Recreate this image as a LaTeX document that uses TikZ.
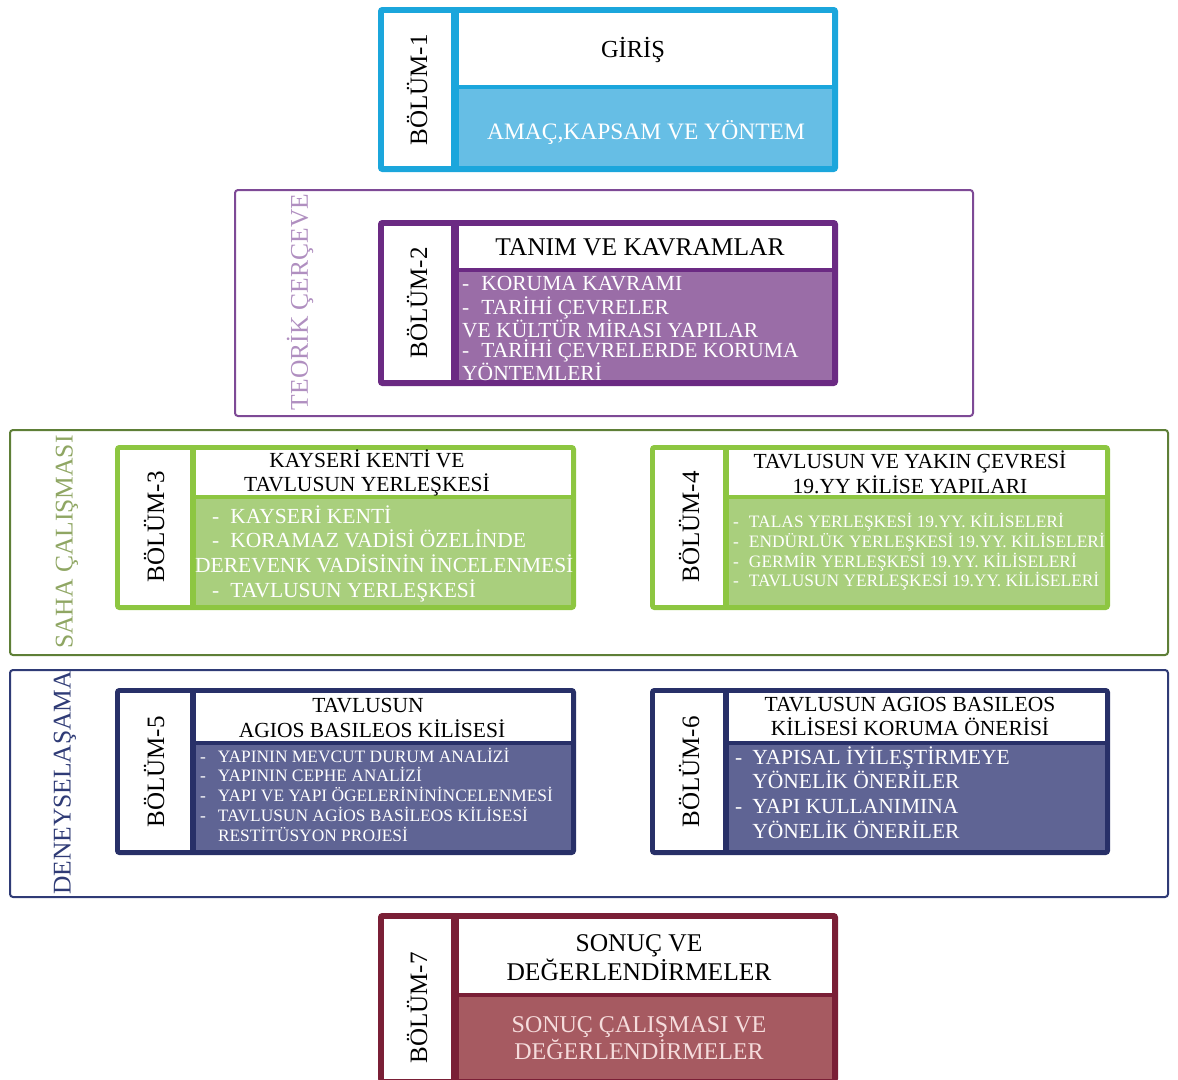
\documentclass[tikz,border=0pt]{standalone}
\usepackage{fontspec}
\setmainfont{Liberation Serif}
\usetikzlibrary{calc}

\definecolor{cyandark}{HTML}{1BA6DC}
\definecolor{cyanlight}{HTML}{66BEE5}
\definecolor{purpdark}{HTML}{6B2A83}
\definecolor{purplight}{HTML}{9A6DA7}
\definecolor{purpframe}{HTML}{7E4A96}
\definecolor{purptext}{HTML}{B08FC0}
\definecolor{greendark}{HTML}{8DC641}
\definecolor{greenlight}{HTML}{A9CF7D}
\definecolor{greenframe}{HTML}{5E7F37}
\definecolor{greentext}{HTML}{8FA663}
\definecolor{navydark}{HTML}{283068}
\definecolor{navylight}{HTML}{5F6494}
\definecolor{navyframe}{HTML}{2F3B76}
\definecolor{maroondark}{HTML}{7A1F36}
\definecolor{maroonlight}{HTML}{A65A61}
\definecolor{maroontext}{HTML}{F5DCDC}

\tikzset{
  lbl/.style={rotate=90, inner sep=0pt, font=\fontsize{25}{25}\selectfont},
  frametxt/.style={rotate=90, inner sep=0pt, font=\fontsize{25.5}{26}\selectfont},
  ttl/.style={anchor=base, inner sep=0pt, font=\fontsize{21.5}{24}\selectfont},
  itm/.style={anchor=base west, inner sep=0pt, text=white, font=\fontsize{21.5}{24}\selectfont},
  sml/.style={itm, font=\fontsize{17.4}{19}\selectfont},
  frame/.style={line width=2pt, rounded corners=3pt},
}

\begin{document}
\begin{tikzpicture}[x=1pt, y=-1pt]
\useasboundingbox (0,0) rectangle (1178,1079);

% frames
\draw[frame, purpframe] (235,190) rectangle (973,416);
\draw[frame, greenframe] (10,430) rectangle (1168,655);
\draw[frame, navyframe] (10,670) rectangle (1168,897);
\node[frametxt, text=purptext] (teorik) at (300,302) {TEORİK ÇERÇEVE};
\node[frametxt, text=greentext] (saha) at (67,542) {SAHA ÇALIŞMASI};
\node[frametxt, text=navyframe] (deney) at (65,783) {DENEYSELAŞAMA};

% bolum-1
\fill[cyandark, rounded corners=4pt] (378,7) rectangle (838,172);
\fill[white] (384,13) rectangle (451,166);
\fill[white] (459,13) rectangle (832,85);
\fill[cyanlight] (459,89) rectangle (832,166);
\node[lbl] (b1) at (417,90) {BÖLÜM-1};
\node[ttl, font=\fontsize{24.5}{26}\selectfont] (b1t) at (633,57) {GİRİŞ};
\node[ttl, text=white, font=\fontsize{23.5}{26}\selectfont] (b1b) at (646,139) {AMAÇ,KAPSAM VE YÖNTEM};

% bolum-2
\fill[purpdark, rounded corners=4pt] (378,220) rectangle (838,386);
\fill[white] (384,226) rectangle (451,380);
\fill[white] (459,226) rectangle (832,268);
\fill[purplight] (459,272) rectangle (832,380);
\node[lbl] (b2) at (417,303) {BÖLÜM-2};
\node[ttl, font=\fontsize{25.5}{27}\selectfont] (b2t) at (640,255) {TANIM VE KAVRAMLAR};
\foreach \yy/\tx [count=\i] in {290/{-\hspace{12pt}KORUMA KAVRAMI}, 314/{-\hspace{12pt}TARİHİ ÇEVRELER},
    337/{VE KÜLTÜR MİRASI YAPILAR}, 357/{-\hspace{12pt}TARİHİ ÇEVRELERDE KORUMA}, 380/{YÖNTEMLERİ}}
  \node[itm] (b2i\i) at (462,\yy) {\tx};

% bolum-3
\fill[greendark, rounded corners=4pt] (115,445) rectangle (576,610);
\fill[white] (120,450) rectangle (190,605);
\fill[white] (196,450) rectangle (571,495);
\fill[greenlight] (196,499) rectangle (571,605);
\node[lbl] (b3) at (154,527) {BÖLÜM-3};
\node[ttl] (b3t1) at (367,467) {KAYSERİ KENTİ VE};
\node[ttl] (b3t2) at (367,491) {TAVLUSUN YERLEŞKESİ};
\foreach \xx/\yy/\tx [count=\i] in {212/523/{-\hspace{11pt}KAYSERİ KENTİ}, 212/547/{-\hspace{11pt}KORAMAZ VADİSİ ÖZELİNDE},
    195/572/{DEREVENK VADİSİNİN İNCELENMESİ}, 212/597/{-\hspace{11pt}TAVLUSUN YERLEŞKESİ}}
  \node[itm] (b3i\i) at (\xx,\yy) {\tx};

% bolum-4
\fill[greendark, rounded corners=4pt] (650,445) rectangle (1110,610);
\fill[white] (655,450) rectangle (723,605);
\fill[white] (729,450) rectangle (1105,495);
\fill[greenlight] (729,499) rectangle (1105,605);
\node[lbl] (b4) at (689,527) {BÖLÜM-4};
\node[ttl] (b4t1) at (910,468) {TAVLUSUN VE YAKIN ÇEVRESİ};
\node[ttl] (b4t2) at (910,493) {19.YY KİLİSE YAPILARI};
\foreach \yy/\tx [count=\i] in {527/{TALAS YERLEŞKESİ 19.YY. KİLİSELERİ}, 547/{ENDÜRLÜK YERLEŞKESİ 19.YY. KİLİSELERİ},
    567/{GERMİR YERLEŞKESİ 19.YY. KİLİSELERİ}, 586/{TAVLUSUN YERLEŞKESİ 19.YY. KİLİSELERİ}}
  \node[sml] (b4i\i) at (733,\yy) {-\hspace{10pt}\tx};

% bolum-5
\fill[navydark, rounded corners=4pt] (115,688) rectangle (576,855);
\fill[white] (120,693) rectangle (190,850);
\fill[white] (196,693) rectangle (571,741);
\fill[navylight] (196,745) rectangle (571,850);
\node[lbl] (b5) at (154,772) {BÖLÜM-5};
\node[ttl] (b5t1) at (368,712) {TAVLUSUN};
\node[ttl] (b5t2) at (372,737) {AGIOS BASILEOS KİLİSESİ};
\foreach \yy/\tx [count=\i] in {762/{-\hspace{12pt}YAPININ MEVCUT DURUM ANALİZİ}, 781/{-\hspace{12pt}YAPININ CEPHE ANALİZİ},
    801/{-\hspace{12pt}YAPI VE YAPI ÖGELERİNİNİNCELENMESİ}, 821/{-\hspace{12pt}TAVLUSUN AGİOS BASİLEOS KİLİSESİ},
    841/{\hspace{17.8pt}RESTİTÜSYON PROJESİ}}
  \node[sml] (b5i\i) at (200,\yy) {\tx};

% bolum-6
\fill[navydark, rounded corners=4pt] (650,688) rectangle (1110,855);
\fill[white] (655,693) rectangle (723,850);
\fill[white] (729,693) rectangle (1105,741);
\fill[navylight] (729,745) rectangle (1105,850);
\node[lbl] (b6) at (689,772) {BÖLÜM-6};
\node[ttl] (b6t1) at (910,711) {TAVLUSUN AGIOS BASILEOS};
\node[ttl] (b6t2) at (910,735) {KİLİSESİ KORUMA ÖNERİSİ};
\foreach \yy/\tx [count=\i] in {764/{-\hspace{10pt}YAPISAL İYİLEŞTİRMEYE}, 788/{\hspace{17.2pt}YÖNELİK ÖNERİLER},
    813/{-\hspace{10pt}YAPI KULLANIMINA}, 838/{\hspace{17.2pt}YÖNELİK ÖNERİLER}}
  \node[itm] (b6i\i) at (735,\yy) {\tx};

% bolum-7
\fill[maroondark, rounded corners=4pt] (378,913) rectangle (838,1083);
\fill[white] (384,919) rectangle (451,1079);
\fill[white] (459,919) rectangle (832,993);
\fill[maroonlight] (459,997) rectangle (832,1079);
\node[lbl] (b7) at (417,1008) {BÖLÜM-7};
\node[ttl, font=\fontsize{25.5}{27}\selectfont] (b7t1) at (639,951) {SONUÇ VE};
\node[ttl, font=\fontsize{25.5}{27}\selectfont] (b7t2) at (639,980) {DEĞERLENDİRMELER};
\node[ttl, text=maroontext, font=\fontsize{24}{26}\selectfont] (b7b1) at (639,1032) {SONUÇ ÇALIŞMASI VE};
\node[ttl, text=maroontext, font=\fontsize{24}{26}\selectfont] (b7b2) at (639,1059) {DEĞERLENDİRMELER};
\end{tikzpicture}
\end{document}
